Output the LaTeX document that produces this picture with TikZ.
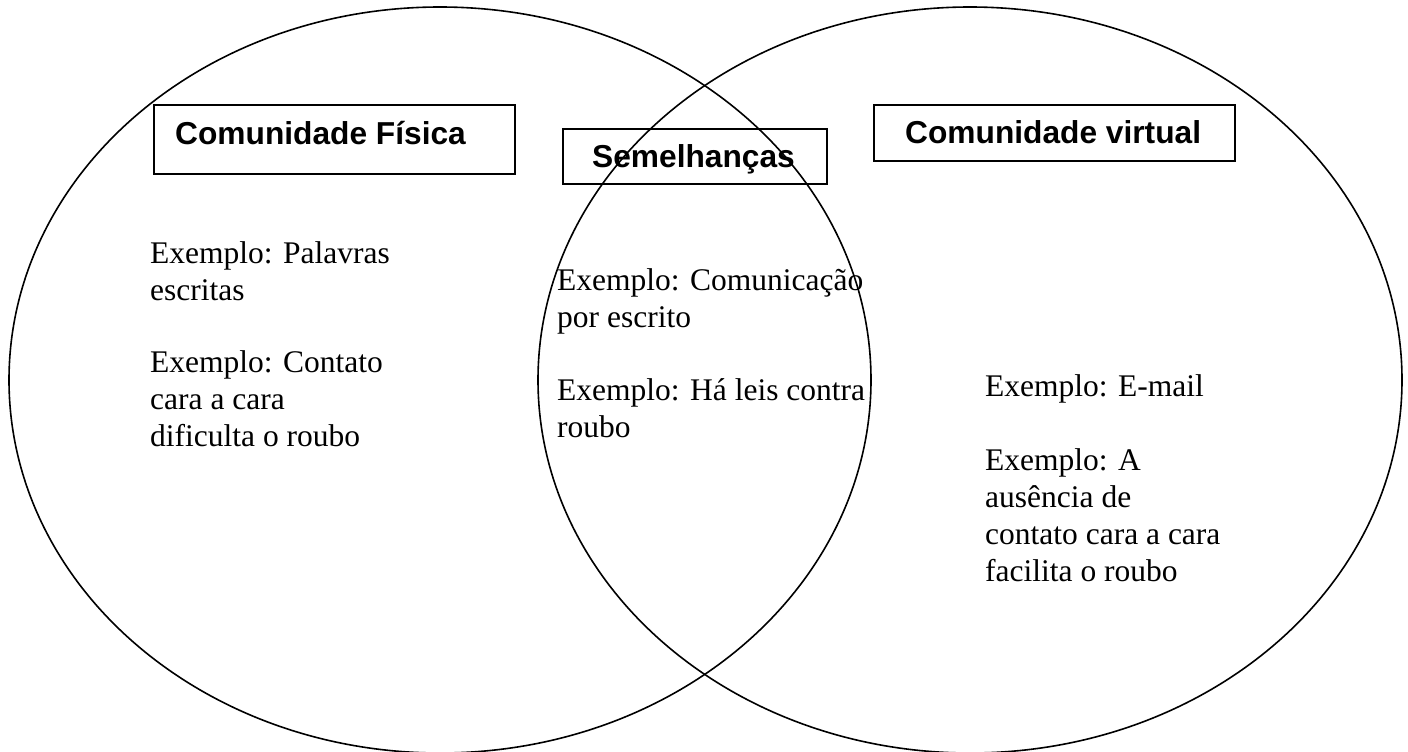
\documentclass[tikz,border=0pt]{standalone}
\usepackage{fontspec}
\setmainfont{Liberation Serif}
\newfontfamily\headfont{Liberation Sans}
\begin{document}
\begin{tikzpicture}[x=1pt,y=-1pt,
  ring/.style={draw=black,line width=1.6pt},
  titlebox/.style={draw=black,line width=1.7pt,anchor=north west,inner sep=0pt},
  head/.style={anchor=base west,inner sep=0pt,font=\headfont\bfseries\fontsize{31.7}{37}\selectfont},
  body/.style={anchor=base west,inner sep=0pt,align=left,font=\fontsize{31.5}{37}\selectfont}]
\useasboundingbox (0,0) rectangle (1408,752);
\fill[white] (0,0) rectangle (1408,752);
% circles
\draw[ring] (440,380) ellipse [x radius=431,y radius=373];
\draw[ring] (970,380) ellipse [x radius=432,y radius=373];
% title boxes
\node[titlebox,minimum width=361pt,minimum height=69pt] (cfbox) at (153,104) {};
\node[head] (cf) at (175,144) {Comunidade Física};
\node[titlebox,minimum width=264pt,minimum height=55pt] (sembox) at (562,128) {};
\node[head] (sem) at (592,167) {Semelhanças};
\node[titlebox,minimum width=361pt,minimum height=56pt] (cvbox) at (873,104) {};
\node[head] (cv) at (905,143) {Comunidade virtual};
% left texts (base anchor = baseline of last line)
\node[body] (l1) at (150,300) {Exemplo: Palavras\\escritas};
\node[body] (l2) at (150,446) {Exemplo: Contato\\cara a cara\\dificulta o roubo};
% middle texts
\node[body] (m1) at (557,327) {Exemplo: Comunicação\\por escrito};
\node[body] (m2) at (557,437) {Exemplo: Há leis contra\\roubo};
% right texts
\node[body] (r1) at (985,396) {Exemplo: E-mail};
\node[body] (r2) at (985,581) {Exemplo: A\\ausência de\\contato cara a cara\\facilita o roubo};
\end{tikzpicture}
\end{document}
